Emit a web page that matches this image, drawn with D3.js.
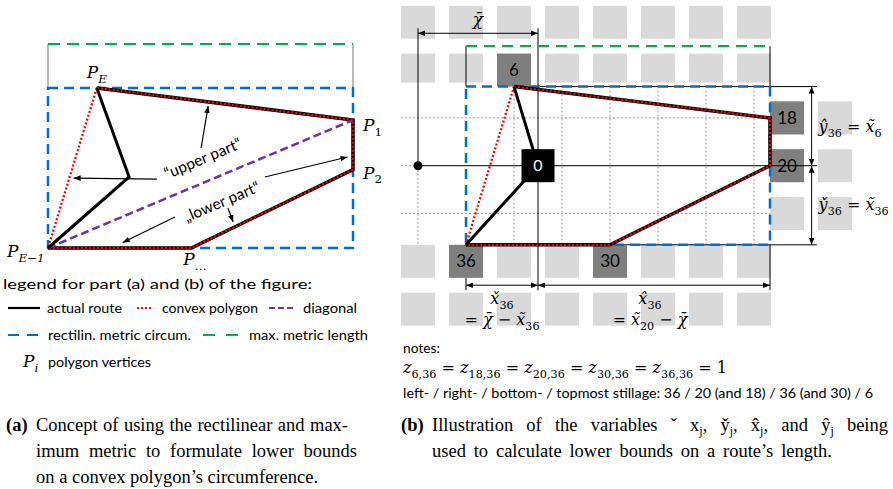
<!DOCTYPE html>
<html>
<head>
<meta charset="utf-8">
<script src="https://cdn.jsdelivr.net/npm/d3@7"></script>
<style>
  body { margin: 0; background: #fff; }
  text { font-family: Lato, "Open Sans", sans-serif; fill: #000; }
  .math { font-family: "DejaVu Serif", serif; font-style: italic; }
  .cap { font-family: "Liberation Serif", serif; }
</style>
</head>
<body>
<svg id="fig" width="893" height="489"></svg>
<script>
// ---------- panel (a): polygon in units of its bounding box (0..100) ----------
const aVertices = [
  { sub: 'E', x: 16, y: 100 },
  { sub: '1', x: 100, y: 80 },
  { sub: '2', x: 100, y: 49 },
  { sub: '…', x: 47, y: 0 },
  { sub: 'E−1', x: 0, y: 0 }
]
const aRoute = [[16, 100], [26.6, 44.4], [0, 0]]
const aDiagonal = [[0, 0], [100, 80]]
const aMaxTop = 127.5
const aArrows = [
  [[50.2, 62.5], [52.5, 88.7]],
  [[35.7, 43.1], [8.4, 43.7]],
  [[71.1, 44.4], [98.2, 56.9]],
  [[59, 25], [60.7, 16.2]],
  [[41.6, 19.4], [24.5, 3.4]]
]
const aTexts = [
  { t: '\u201Cupper part\u201C', x: 50.8, y: 56 },
  { t: '\u201Elower part\u201C', x: 57, y: 29 }
]

// ---------- panel (b): stillage grid in column / row units ----------
const gridCols = [0, 1, 2, 3, 4, 5, 6, 7]
const outerRows = [0, 1, 5, 6]
const sideCols = [7.6875, 8.6875]
const sideRows = [2, 3, 4]
const stillages = [
  { id: 6, c: 2, r: 1, side: 'bottom' },
  { id: 18, c: 7.6875, r: 2, side: 'left' },
  { id: 20, c: 7.6875, r: 3, side: 'left' },
  { id: 30, c: 4, r: 5, side: 'top' },
  { id: 36, c: 1, r: 5, side: 'top' }
]
const depot = { id: 0, c: 2.5, r: 3 }
const routeB = [6, 0, 36]
const hullB = [6, 18, 20, 30, 36]
const dottedCols = [2, 3, 4, 5, 6, 7]
const dottedRows = [2, 4]

const svg = d3.select('#fig')
const defs = svg.append('defs')
defs.append('marker').attr('id', 'arr')
  .attr('viewBox', '0 0 10 10').attr('refX', 10).attr('refY', 5)
  .attr('markerWidth', 7).attr('markerHeight', 7).attr('markerUnits', 'userSpaceOnUse')
  .attr('orient', 'auto-start-reverse')
  .append('path').attr('d', 'M0,1 L10,5 L0,9 Z').attr('fill', '#000')

const BLUE = '#0070C0', GREEN = '#00B050', RED = '#FF0000', PURPLE = '#7030A0'
const line = d3.line()

// math text: parts = [text, kind]; kind i = italic, r = roman, s = roman sub, si = italic sub
function math(g, x, y, parts, size, anchor) {
  const t = g.append('text').attr('class', 'math').attr('x', x).attr('y', y)
    .attr('font-size', size).attr('text-anchor', anchor || 'start')
  let low = false
  parts.forEach(p => {
    const sp = t.append('tspan').text(p[0])
    const isSub = p[1] === 's' || p[1] === 'si'
    if (p[1] === 'r' || p[1] === 's') sp.attr('font-style', 'normal')
    if (isSub) sp.attr('font-size', size * 0.7)
    if (isSub && !low) { sp.attr('dy', size * 0.28); low = true }
    if (!isSub && low) { sp.attr('dy', -size * 0.28); low = false }
  })
  return t
}
function fit(t, w) { return t.attr('textLength', w).attr('lengthAdjust', 'spacingAndGlyphs') }
// justify a caption line by widening the gaps between words
function justify(t, w) {
  const natural = t.node().getComputedTextLength()
  const gaps = (t.text().match(/ /g) || []).length
  if (gaps) t.attr('word-spacing', (w - natural) / gaps)
  return t
}

// ================= panel (a) =================
const ax = d3.scaleLinear().domain([0, 100]).range([48, 353])
const ay = d3.scaleLinear().domain([0, 100]).range([248, 88])
const pa = d => [ax(d[0]), ay(d[1])]
const ga = svg.append('g')

// max metric length
ga.append('path').attr('d', line([[0, 100], [0, aMaxTop]].map(pa)) + line([[100, 100], [100, aMaxTop]].map(pa)))
  .attr('stroke', '#777').attr('stroke-width', 1).attr('fill', 'none')
ga.append('path').attr('d', line([[0, aMaxTop], [100, aMaxTop]].map(pa)))
  .attr('stroke', GREEN).attr('stroke-width', 2.2).attr('stroke-dasharray', '12,7').attr('fill', 'none')
// rectilinear circumference
ga.append('rect').attr('x', ax(0)).attr('y', ay(100)).attr('width', ax(100) - ax(0)).attr('height', ay(0) - ay(100))
  .attr('fill', 'none').attr('stroke', BLUE).attr('stroke-width', 2.5).attr('stroke-dasharray', '10,6')
// hull edges
const aHull = aVertices.map(d => pa([d.x, d.y]))
ga.append('path').attr('d', line(aHull)).attr('fill', 'none').attr('stroke', '#000').attr('stroke-width', 3.5)
ga.append('path').attr('d', line(aHull.concat([aHull[0]]))).attr('fill', 'none')
  .attr('stroke', RED).attr('stroke-width', 2.3).attr('stroke-dasharray', '2,2')
// diagonal
ga.append('path').attr('d', line(aDiagonal.map(pa))).attr('fill', 'none')
  .attr('stroke', PURPLE).attr('stroke-width', 2.5).attr('stroke-dasharray', '8,4')
// actual route
ga.append('path').attr('d', line(aRoute.map(pa))).attr('fill', 'none').attr('stroke', '#000').attr('stroke-width', 3)
// pointer arrows
ga.selectAll('.arrA').data(aArrows).enter().append('path')
  .attr('d', d => line(d.map(pa))).attr('stroke', '#000').attr('stroke-width', 1.2).attr('marker-end', 'url(#arr)')
const diagAngle = Math.atan2(ay(80) - ay(0), ax(100) - ax(0)) * 180 / Math.PI
ga.selectAll('.partTxt').data(aTexts).enter().append('text')
  .attr('transform', d => `translate(${ax(d.x)},${ay(d.y)}) rotate(${diagAngle})`)
  .attr('text-anchor', 'middle').attr('dy', '0.35em').attr('font-size', 15.5).text(d => d.t)
// vertex labels
const vLab = [
  { dx: 0, dy: -10, anchor: 'middle' },
  { dx: 10, dy: 11, anchor: 'start' },
  { dx: 10, dy: 9, anchor: 'start' },
  { dx: -8, dy: 17, anchor: 'start' },
  { dx: -41, dy: 9, anchor: 'start' }
]
aVertices.forEach((d, i) => {
  const sub = d.sub === 'E' || d.sub === 'E−1' ? 'si' : 's'
  math(ga, ax(d.x) + vLab[i].dx, ay(d.y) + vLab[i].dy, [['P', 'i'], [d.sub, sub]], 17, vLab[i].anchor)
})

// legend
const lg = svg.append('g')
fit(lg.append('text').attr('x', 3).attr('y', 289).attr('font-size', 14).text('legend for part (a) and (b) of the figure:'), 309)
const legendItems = [
  { x1: 8, x2: 40, y: 308, c: '#000', dash: null, w: 2.2, label: 'actual route', tx: 47, tw: 75 },
  { x1: 137, x2: 153, y: 308, c: RED, dash: '2,2', w: 2, label: 'convex polygon', tx: 162, tw: 96 },
  { x1: 269, x2: 296, y: 308, c: PURPLE, dash: '6,3', w: 2, label: 'diagonal', tx: 303, tw: 54 },
  { x1: 8, x2: 40, y: 335, c: BLUE, dash: '11,8', w: 2, label: 'rectilin. metric circum.', tx: 48, tw: 143 },
  { x1: 203, x2: 238, y: 335, c: GREEN, dash: '12,11', w: 2, label: 'max. metric length', tx: 249, tw: 119 }
]
legendItems.forEach(d => {
  lg.append('line').attr('x1', d.x1).attr('x2', d.x2).attr('y1', d.y).attr('y2', d.y)
    .attr('stroke', d.c).attr('stroke-width', d.w).attr('stroke-dasharray', d.dash)
  fit(lg.append('text').attr('x', d.tx).attr('y', d.y + 5).attr('font-size', 14).text(d.label), d.tw)
})
math(lg, 23, 367, [['P', 'i'], ['i', 'si']], 17)
fit(lg.append('text').attr('x', 48).attr('y', 367).attr('font-size', 14).text('polygon vertices'), 103)

// ================= panel (b) =================
const bx = d3.scaleLinear().domain([0, 1]).range([418, 466])
const by = d3.scaleLinear().domain([0, 1]).range([22.3, 70.1])
const SW = 34, SH = 33
const gb = svg.append('g')
const byId = {}
stillages.forEach(s => { byId[s.id] = s })
const vertex = s => {
  if (s.side === 'bottom') return [bx(s.c), by(s.r) + SH / 2]
  if (s.side === 'top') return [bx(s.c), by(s.r) - SH / 2]
  if (s.side === 'left') return [bx(s.c) - SW / 2, by(s.r)]
  return [bx(s.c), by(s.r)]
}
const hullPts = hullB.map(id => vertex(byId[id]))
const bLeft = d3.min(hullPts, d => d[0]), bRight = d3.max(hullPts, d => d[0])
const bTop = d3.min(hullPts, d => d[1]), bBottom = d3.max(hullPts, d => d[1])

// light stillage squares
const cells = []
outerRows.forEach(r => gridCols.forEach(c => cells.push({ c, r })))
sideRows.forEach(r => sideCols.forEach(c => cells.push({ c, r })))
gb.selectAll('.cell').data(cells).enter().append('rect')
  .attr('x', d => bx(d.c) - SW / 2).attr('y', d => by(d.r) - SH / 2)
  .attr('width', SW).attr('height', SH).attr('fill', '#d9d9d9')
// white floor area
gb.append('rect').attr('x', bx(0) - SW / 2 - 5).attr('y', bTop - 4).attr('width', bRight - bx(0) + SW / 2 + 5)
  .attr('height', bBottom - bTop + 4).attr('fill', '#fff')

// dotted grid
const dotted = { stroke: '#a0a0a0', 'stroke-width': 1, 'stroke-dasharray': '2,2' }
const addLines = (data, attrs) => {
  const sel = gb.append('g').selectAll('line').data(data).enter().append('line')
    .attr('x1', d => d[0]).attr('y1', d => d[1]).attr('x2', d => d[2]).attr('y2', d => d[3])
  Object.entries(attrs).forEach(([k, v]) => sel.attr(k, v))
}
addLines(dottedCols.map(c => [bx(c), bTop, bx(c), bBottom]), dotted)
addLines(dottedRows.map(r => [bx(0) - SW / 2, by(r), bRight, by(r)]), dotted)
addLines([[bx(0), by(3), bx(0), bBottom], [bx(0) - SW / 2, by(3), bx(0), by(3)]], dotted)

// thin construction lines
const extR = bx(8.31), dimY = by(5.5), chiY = by(0.23), dimX = bx(8.2)
const thin = { stroke: '#000', 'stroke-width': 1 }
addLines([
  [bx(0), chiY - 5, bx(0), by(3)],
  [bx(depot.c), chiY - 5, bx(depot.c), dimY + 5],
  [bx(2) + SW / 2, bTop, extR, bTop],
  [bLeft, bBottom, extR, bBottom],
  [bLeft, bBottom, bLeft, dimY + 5],
  [bRight, bBottom, bRight, dimY + 5],
  [bLeft, by(0.5), bLeft, bTop],
  [bRight, by(0.5), bRight, bTop]
], thin)

// dark stillages
const sq = gb.selectAll('.still').data(stillages).enter().append('g')
  .attr('transform', d => `translate(${bx(d.c)},${by(d.r)})`)
sq.append('rect').attr('x', -SW / 2).attr('y', -SH / 2).attr('width', SW).attr('height', SH).attr('fill', '#7f7f7f')
sq.append('text').attr('text-anchor', 'middle').attr('dy', '0.36em').attr('font-size', 17).text(d => d.id)

addLines([[bx(0), by(3), extR, by(3)]], thin)

// dimension arrows
const dim = { stroke: '#000', 'stroke-width': 1, 'marker-start': 'url(#arr)', 'marker-end': 'url(#arr)' }
addLines([
  [bx(0), chiY, bx(depot.c), chiY],
  [dimX, bTop, dimX, by(3)],
  [dimX, by(3), dimX, bBottom],
  [bLeft, dimY, bx(depot.c), dimY],
  [bx(depot.c), dimY, bRight, dimY]
], dim)

// green / blue metric outlines
gb.append('path').attr('d', line([[bLeft, by(0.5)], [bRight, by(0.5)]]))
  .attr('stroke', GREEN).attr('stroke-width', 2.2).attr('stroke-dasharray', '11,7')
gb.append('rect').attr('x', bLeft).attr('y', bTop).attr('width', bRight - bLeft).attr('height', bBottom - bTop)
  .attr('fill', 'none').attr('stroke', BLUE).attr('stroke-width', 2.5).attr('stroke-dasharray', '10,6')

// convex hull and route
gb.append('path').attr('d', line(hullPts)).attr('fill', 'none').attr('stroke', '#000').attr('stroke-width', 3.5)
gb.append('path').attr('d', line(hullPts.concat([hullPts[0]]))).attr('fill', 'none')
  .attr('stroke', RED).attr('stroke-width', 2.3).attr('stroke-dasharray', '2,2')
const routePts = routeB.map(id => id === 0 ? [bx(depot.c), by(depot.r)] : vertex(byId[id]))
gb.append('path').attr('d', line(routePts)).attr('fill', 'none').attr('stroke', '#000').attr('stroke-width', 3)

// depot
gb.append('rect').attr('x', bx(depot.c) - 16.5).attr('y', by(depot.r) - 16.5).attr('width', 33).attr('height', 33).attr('fill', '#000')
gb.append('text').attr('x', bx(depot.c)).attr('y', by(depot.r)).attr('dy', '0.36em').attr('text-anchor', 'middle')
  .attr('font-size', 16).style('fill', '#fff').text(depot.id)
gb.append('circle').attr('cx', bx(0)).attr('cy', by(3)).attr('r', 4.5).attr('fill', '#000')

// variable labels
const chi = '\u03C7\u0304'
math(gb, (bx(0) + bx(depot.c)) / 2, chiY - 8, [[chi, 'i']], 17, 'middle')
math(gb, dimX + 7, (bTop + by(3)) / 2 + 6, [['\u0177', 'i'], ['36', 's'], [' = ', 'r'], ['x\u0303', 'i'], ['6', 's']], 16)
math(gb, dimX + 7, (by(3) + bBottom) / 2 + 5, [['y\u030C', 'i'], ['36', 's'], [' = ', 'r'], ['x\u0303', 'i'], ['36', 's']], 16)
const mL = (bLeft + bx(depot.c)) / 2, mR = (bx(depot.c) + bRight) / 2 - 4
math(gb, mL, dimY + 19, [['x\u030C', 'i'], ['36', 's']], 16, 'middle')
math(gb, mL, dimY + 40, [['= ', 'r'], [chi, 'i'], [' \u2212 ', 'r'], ['x\u0303', 'i'], ['36', 's']], 16, 'middle')
math(gb, mR, dimY + 19, [['x\u0302', 'i'], ['36', 's']], 16, 'middle')
math(gb, mR, dimY + 40, [['= ', 'r'], ['x\u0303', 'i'], ['20', 's'], [' \u2212 ', 'r'], [chi, 'i']], 16, 'middle')

// notes
const nt = svg.append('g')
fit(nt.append('text').attr('x', 403).attr('y', 353).attr('font-size', 14).text('notes:'), 37)
const zParts = []
const zSubs = ['6,36', '18,36', '20,36', '30,36', '36,36']
zSubs.forEach(s => { zParts.push(['z', 'i'], [s, 's'], [' = ', 'r']) })
zParts.push(['1', 'r'])
fit(math(nt, 403, 373, zParts, 17), 324)
fit(nt.append('text').attr('x', 403).attr('y', 398).attr('font-size', 14)
  .text('left- / right- / bottom- / topmost stillage: 36 / 20 (and 18) / 36 (and 30) / 6'), 470)

// captions
const cp = svg.append('g')
const capLine = (x, y, txt, w, bold) => {
  const t = cp.append('text').attr('class', 'cap').attr('x', x).attr('y', y).attr('font-size', 18.5)
    .attr('font-weight', bold ? 'bold' : 'normal').text(txt)
  if (w) justify(t, w)
  return t
}
capLine(6, 431, '(a)', 0, true)
capLine(36, 431, 'Concept of using the rectilinear and max-', 312)
capLine(36, 457, 'imum metric to formulate lower bounds', 321)
capLine(36, 483, 'on a convex polygon\u2019s circumference.', 0)
capLine(401, 431, '(b)', 0, true)
const cb = cp.append('text').attr('class', 'cap').attr('x', 432).attr('y', 431).attr('font-size', 18.5)
const cbParts = [['Illustration of the variables \u02C7 x', 0], ['j', 1], [', y\u030C', 0], ['j', 1], [', x\u0302', 0], ['j', 1], [', and y\u0302', 0], ['j', 1], [' being', 0]]
let low = false
cbParts.forEach(p => {
  const sp = cb.append('tspan').text(p[0])
  if (p[1]) { sp.attr('font-size', 12); if (!low) { sp.attr('dy', 4); low = true } }
  else if (low) { sp.attr('dy', -4); low = false }
})
justify(cb, 456)
capLine(432, 457, 'used to calculate lower bounds on a route\u2019s length.', 400)
</script>
</body>
</html>
